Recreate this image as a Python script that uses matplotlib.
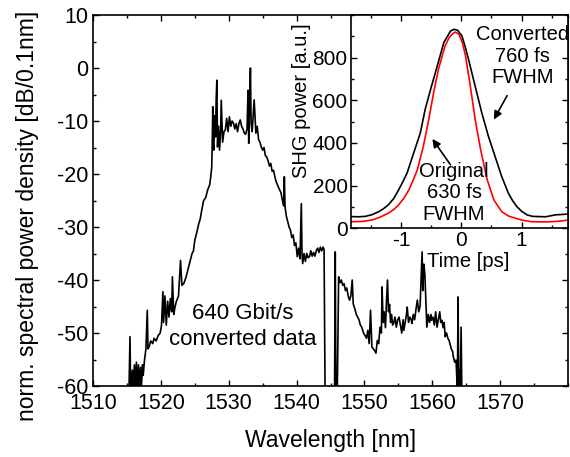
import matplotlib
matplotlib.use("Agg")
import matplotlib.pyplot as plt
from matplotlib.ticker import MultipleLocator

plt.rcParams['font.family'] = ['Liberation Sans', 'DejaVu Sans']
plt.rcParams['axes.unicode_minus'] = False

# ---- main spectrum data (wavelength nm, dB/0.1nm) ----
wavelength = [
    1515.3, 1515.45, 1515.55, 1515.8, 1515.9, 1516.1, 1516.2, 1516.4, 1516.5, 1516.7,
    1516.8, 1517.0, 1517.1, 1517.3, 1517.4, 1517.6, 1517.8, 1518.0, 1518.1, 1518.3,
    1518.5, 1518.8, 1519.0, 1519.3, 1519.6, 1519.9, 1520.1, 1520.3, 1520.4, 1520.6,
    1520.8, 1521.0, 1521.2, 1521.4, 1521.6, 1521.7, 1521.9, 1522.1, 1522.3, 1522.6,
    1522.9, 1523.1, 1523.4, 1523.7, 1524.0, 1524.3, 1524.6, 1524.8, 1525.0, 1525.3,
    1525.6, 1525.8, 1526.0, 1526.3, 1526.6, 1526.9, 1527.2, 1527.4, 1527.5, 1527.6,
    1527.65, 1527.7, 1527.8, 1527.95, 1528.05, 1528.15, 1528.25, 1528.35, 1528.5, 1528.65,
    1528.8, 1528.9, 1529.0, 1529.1, 1529.3, 1529.5, 1529.7, 1529.9, 1530.1, 1530.3,
    1530.5, 1530.7, 1530.9, 1531.1, 1531.3, 1531.5, 1531.7, 1531.9, 1532.1, 1532.3,
    1532.5, 1532.7, 1532.85, 1532.95, 1533.05, 1533.2, 1533.3, 1533.45, 1533.6, 1533.75,
    1533.9, 1534.0, 1534.2, 1534.4, 1534.6, 1534.8, 1535.0, 1535.2, 1535.4, 1535.6,
    1535.8, 1536.0, 1536.2, 1536.4, 1536.6, 1536.8, 1537.0, 1537.3, 1537.5, 1537.7,
    1537.9, 1538.1, 1538.2, 1538.3, 1538.5, 1538.7, 1538.9, 1539.1, 1539.3, 1539.5,
    1539.7, 1539.9, 1540.1, 1540.3, 1540.5, 1540.7, 1540.8, 1540.9, 1541.1, 1541.3,
    1541.5, 1541.7, 1541.9, 1542.1, 1542.3, 1542.5, 1542.7, 1542.9, 1543.1, 1543.3,
    1543.5, 1543.7, 1543.9, 1544.05, 1544.2, 1545.6, 1545.7, 1545.8, 1546.0, 1546.2,
    1546.4, 1546.6, 1546.8, 1547.0, 1547.2, 1547.4, 1547.6, 1547.8, 1548.0, 1548.2,
    1548.35, 1548.6, 1548.8, 1549.0, 1549.2, 1549.4, 1549.6, 1549.9, 1550.1, 1550.3,
    1550.5, 1550.7, 1550.9, 1551.1, 1551.3, 1551.5, 1551.7, 1551.9, 1552.1, 1552.3,
    1552.5, 1552.6, 1552.75, 1552.9, 1553.1, 1553.25, 1553.4, 1553.55, 1553.7, 1553.85,
    1554.0, 1554.15, 1554.3, 1554.5, 1554.7, 1554.9, 1555.1, 1555.3, 1555.5, 1555.7,
    1555.8, 1556.0, 1556.2, 1556.3, 1556.5, 1556.7, 1556.9, 1557.0, 1557.2, 1557.4,
    1557.6, 1557.8, 1558.0, 1558.2, 1558.35, 1558.5, 1558.6, 1558.75, 1558.9, 1559.05,
    1559.2, 1559.4, 1559.6, 1559.8, 1559.9, 1560.1, 1560.3, 1560.5, 1560.7, 1560.9,
    1561.1, 1561.25, 1561.4, 1561.6, 1561.75, 1561.9, 1562.1, 1562.3, 1562.5, 1562.6,
    1562.8, 1563.0, 1563.1, 1563.3, 1563.5, 1563.6, 1563.7, 1563.8, 1563.9, 1564.0,
    1564.1, 1564.25, 1564.35,
]
power_db = [
    -61, -50.7, -61, -57, -61, -56, -61, -55.5, -61, -56,
    -61, -56.5, -61, -56, -58, -55, -53, -45.7, -53, -52.5,
    -51.5, -52, -51, -51.5, -50.5, -50, -48.5, -42.2, -48, -43,
    -48.5, -44, -47, -43.5, -46, -39.4, -46.5, -45, -44, -43,
    -36.3, -41, -40.6, -39.5, -38, -36.5, -35, -34.5, -32.5, -31,
    -29.3, -28.5, -27, -25, -24.5, -23, -22, -20, -18.6, -12,
    -7.3, -14, -15.5, -9, -13, -6, -2.3, -14.9, -11, -15.5,
    -12, -6.1, -10, -14, -12, -11.7, -9.5, -12, -9.2, -11,
    -10, -10.4, -11.5, -10.5, -12, -10.5, -9.8, -11, -11.5, -12.3,
    -12.5, -11.5, -4.2, -14.2, -8, 0, -10.4, -12, -9, -6,
    -10, -12.3, -11, -13.5, -14, -14.9, -15.5, -15, -16.5, -16.8,
    -17.5, -18.5, -18, -19.5, -19.3, -20.5, -21.5, -22.4, -23, -23.5,
    -24.9, -26, -20.5, -26.2, -28, -29, -30, -30.6, -32, -31.5,
    -33.5, -33, -35.6, -34, -36, -25.6, -35, -36.9, -35, -36.5,
    -35, -35.8, -35.6, -34.5, -35.5, -34.8, -35.5, -34.5, -34, -34.8,
    -33.8, -34.5, -33.8, -34.2, -61, -61, -34.7, -61, -61, -39.4,
    -40.5, -40, -41, -40.7, -42, -41.5, -43, -43.8, -43, -40,
    -44.5, -45.5, -46.5, -47, -47.5, -48.5, -48.9, -50.1, -50.5, -51,
    -49.5, -52, -45.7, -52.6, -53, -53.3, -53.8, -51.4, -52, -48.9,
    -50, -41.3, -48, -46, -49, -44, -40, -46, -44.6, -48,
    -46.5, -48.5, -48.2, -47, -48.9, -47.5, -47, -48.5, -50, -47.5,
    -49.5, -48, -46.5, -45.1, -48, -47, -47.5, -48.2, -46.5, -47.5,
    -45.5, -43.8, -46, -45, -40, -34.7, -42, -37, -38.8, -44,
    -48.9, -46.5, -48, -46.5, -47.6, -47, -48.5, -46, -48.9, -47.5,
    -46, -48, -47.6, -49, -48, -50.7, -50, -51, -51.5, -52,
    -53, -53.5, -54.5, -55.5, -55.1, -58, -61, -43.2, -61, -57,
    -61, -48.9, -61,
]

# ---- inset autocorrelation data (time ps, SHG power a.u.) ----
time_conv = [-1.83, -1.70, -1.59, -1.48, -1.37, -1.29, -1.21, -1.12, -1.04, -0.97,
             -0.90, -0.79, -0.68, -0.60, -0.51, -0.40, -0.29, -0.22, -0.18, -0.12,
             -0.06, 0.01, 0.06, 0.12, 0.23, 0.34, 0.45, 0.56, 0.67, 0.78,
             0.85, 0.92, 1.00, 1.09, 1.18, 1.28, 1.40, 1.56, 1.68, 1.78]
shg_conv = [55, 54, 56, 64, 78, 92, 110, 140, 180, 218,
            259, 353, 447, 557, 651, 760, 871, 905, 925, 933,
            928, 902, 855, 792, 666, 541, 431, 337, 243, 165,
            130, 102, 80, 63, 56, 55, 54, 63, 65, 67]
time_orig = [-1.83, -1.65, -1.48, -1.35, -1.21, -1.12, -1.04, -0.95, -0.87, -0.80,
             -0.73, -0.63, -0.54, -0.46, -0.38, -0.27, -0.20, -0.15, -0.10, -0.04,
             0.02, 0.07, 0.15, 0.23, 0.32, 0.43, 0.54, 0.67, 0.78, 0.90,
             1.03, 1.17, 1.35, 1.50, 1.65, 1.78]
shg_orig = [31, 32, 39, 52, 71, 88, 110, 142, 180, 225,
            274, 384, 510, 635, 745, 855, 895, 910, 920, 910,
            868, 808, 666, 510, 369, 227, 133, 78, 58, 47,
            37, 31, 30, 31, 34, 39]

W, H = 570, 457
fig = plt.figure(figsize=(W / 100, H / 100), dpi=100)

def rect(l, r, t, b):
    return [l / W, 1 - b / H, (r - l) / W, (b - t) / H]

ax = fig.add_axes(rect(93, 568, 15, 386))
ax.plot(wavelength, power_db, color='black', lw=1.2)
ax.set_xlim(1510, 1580)
ax.set_ylim(-60, 10)
ax.set_xticks([1510, 1520, 1530, 1540, 1550, 1560, 1570])
ax.xaxis.set_minor_locator(MultipleLocator(5))
ax.yaxis.set_major_locator(MultipleLocator(10))
ax.yaxis.set_minor_locator(MultipleLocator(5))
ax.tick_params(which='both', direction='in', top=True, right=True, width=1.0)
ax.tick_params(which='major', length=4.5, labelsize=15.5)
ax.tick_params(which='minor', length=2.5)
ax.tick_params(axis='y', pad=3.5)
ax.tick_params(axis='x', pad=5)
for s in ax.spines.values():
    s.set_linewidth(1.2)
ax.set_xlabel('Wavelength [nm]', fontsize=16.5)
ax.set_ylabel('norm. spectral power density [dB/0.1nm]', fontsize=16.5)
ax.xaxis.label.set_va('center')
ax.yaxis.label.set_va('center')
ax.xaxis.set_label_coords(0.5, -0.146)
ax.yaxis.set_label_coords(-0.137, 0.458)
ax.text(1532.1, -48.7, '640 Gbit/s\nconverted data', fontsize=16, ha='center',
        va='center', multialignment='center', linespacing=1.3)

ins = fig.add_axes(rect(351, 568, 15, 228.3))
ins.plot(time_conv, shg_conv, color='black', lw=1.2)
ins.plot(time_orig, shg_orig, color='#ff0000', lw=1.2)
ins.set_xlim(-1.83, 1.77)
ins.set_ylim(0, 1000)
ins.set_xticks([-1, 0, 1])
ins.set_yticks([0, 200, 400, 600, 800])
ins.xaxis.set_minor_locator(MultipleLocator(0.5))
ins.yaxis.set_minor_locator(MultipleLocator(100))
ins.tick_params(which='both', direction='in', top=True, right=True, width=1.0)
ins.tick_params(which='major', length=4, labelsize=15)
ins.tick_params(which='minor', length=2.5)
ins.tick_params(axis='y', pad=2.5)
ins.tick_params(axis='x', pad=2)
for s in ins.spines.values():
    s.set_linewidth(1.2)
ins.set_xlabel('Time [ps]', fontsize=14.5)
ins.set_ylabel('SHG power [a.u.]', fontsize=14.5)
ins.xaxis.label.set_va('center')
ins.yaxis.label.set_va('center')
ins.xaxis.set_label_coords(0.54, -0.157)
ins.yaxis.set_label_coords(-0.227, 0.60)
ins.text(1.01, 807, 'Converted\n760 fs\nFWHM', fontsize=14.5, ha='center',
         va='center', multialignment='center', linespacing=1.15)
ins.text(-0.12, 166, 'Original\n630 fs\nFWHM', fontsize=14.5, ha='center',
         va='center', multialignment='center', linespacing=1.15)
ins.annotate('', xy=(0.54, 510), xytext=(0.76, 622),
             arrowprops=dict(arrowstyle='-|>', color='black', lw=1.2,
                             mutation_scale=12, shrinkA=0, shrinkB=0))
ins.annotate('', xy=(-0.48, 419), xytext=(-0.18, 298),
             arrowprops=dict(arrowstyle='-|>', color='black', lw=1.2,
                             mutation_scale=12, shrinkA=0, shrinkB=0))

fig.savefig('out.png', dpi=100)
